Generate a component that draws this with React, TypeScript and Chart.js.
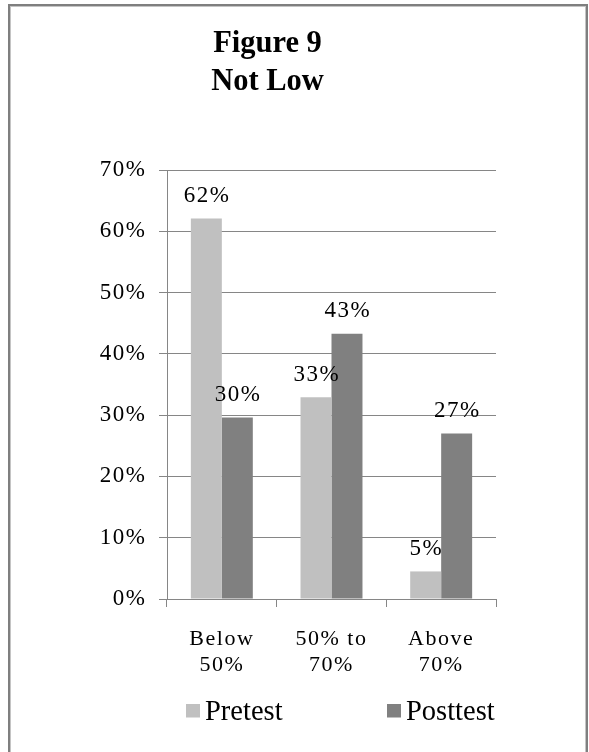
import React, { useEffect, useRef } from "react";
import { Chart, registerables } from "chart.js";

Chart.register(...registerables);

const titleLines = ["Figure 9", "Not Low"];
const categories = [["Below", "50%"], ["50% to", "70%"], ["Above", "70%"]];
const seriesNames = ["Pretest", "Posttest"];
const pretest = [62.1, 32.9, 4.5];
const posttest = [29.6, 43.3, 27.0];
const yTicks = [0, 10, 20, 30, 40, 50, 60, 70];

const SERIF = "'Liberation Serif', 'Times New Roman', serif";
const GRID = "#868686";
const LS = "1.5px";

const spacingPlugin = {
  id: "spacing",
  beforeDraw(chart: any) {
    chart.ctx.letterSpacing = LS;
  },
};

const dataLabelPlugin = {
  id: "dataLabels",
  afterDatasetsDraw(chart: any) {
    const ctx = chart.ctx;
    ctx.save();
    ctx.letterSpacing = LS;
    ctx.font = `23px ${SERIF}`;
    ctx.fillStyle = "#000";
    ctx.textAlign = "center";
    ctx.textBaseline = "alphabetic";
    chart.data.datasets.forEach((ds: any, i: number) => {
      const meta = chart.getDatasetMeta(i);
      meta.data.forEach((el: any, j: number) => {
        const v = ds.data[j];
        ctx.fillText(Math.round(v) + "%", el.x + 0.75, el.y - 16.5);
      });
    });
    ctx.restore();
  },
};

const titleLegendPlugin = {
  id: "titleLegend",
  afterDraw(chart: any) {
    const ctx = chart.ctx;
    const area = chart.chartArea;
    ctx.save();
    ctx.letterSpacing = "0px";
    // title
    ctx.font = `bold 30.5px ${SERIF}`;
    ctx.fillStyle = "#000";
    ctx.textAlign = "center";
    ctx.textBaseline = "alphabetic";
    const baselines = [51.7, 90];
    titleLines.forEach((t, i) => ctx.fillText(t, 267.5, baselines[i]));
    // legend
    const offsets = [19, 220];
    ctx.font = `28.5px ${SERIF}`;
    ctx.textAlign = "left";
    chart.data.datasets.forEach((ds: any, i: number) => {
      const bx = area.left + offsets[i];
      const by = area.bottom + 105;
      ctx.fillStyle = ds.backgroundColor;
      ctx.fillRect(bx, by, 14, 13.5);
      ctx.fillStyle = "#000";
      ctx.fillText(ds.label, bx + 19, area.bottom + 120.5);
    });
    ctx.restore();
  },
};

export default function App() {
  const ref = useRef<HTMLCanvasElement>(null);
  useEffect(() => {
    if (!ref.current) return;
    const chart = new Chart(ref.current, {
      type: "bar",
      data: {
        labels: categories as any,
        datasets: [
          {
            label: seriesNames[0],
            data: pretest,
            backgroundColor: "#C0C0C0",
            categoryPercentage: 0.565,
            barPercentage: 1.0,
          },
          {
            label: seriesNames[1],
            data: posttest,
            backgroundColor: "#808080",
            categoryPercentage: 0.565,
            barPercentage: 1.0,
          },
        ],
      },
      options: {
        responsive: false,
        animation: false,
        layout: { padding: { top: 170, left: 10, right: 93, bottom: 53 } },
        plugins: {
          legend: { display: false },
          title: { display: false },
          tooltip: { enabled: false },
        },
        scales: {
          x: {
            grid: {
              display: true,
              drawOnChartArea: false,
              drawTicks: true,
              tickLength: 8,
              color: GRID,
              offset: true,
            },
            border: { color: GRID, width: 1 },
            ticks: {
              color: "#000",
              font: { family: SERIF, size: 22, lineHeight: 1.2 },
              padding: 19,
              maxRotation: 0,
              autoSkip: false,
            },
            afterFit: (s: any) => {
              s.height = 100;
            },
          },
          y: {
            min: 0,
            max: 70,
            afterBuildTicks: (s: any) => {
              s.ticks = yTicks.map((v) => ({ value: v }));
            },
            grid: {
              color: GRID,
              tickLength: 8,
              drawTicks: true,
            },
            border: { color: GRID, width: 1 },
            ticks: {
              color: "#000",
              font: { family: SERIF, size: 23 },
              padding: 12.5,
              callback: (v: any) => v + "%",
            },
            afterFit: (s: any) => {
              s.width = 157;
            },
          },
        },
      },
      plugins: [spacingPlugin, dataLabelPlugin, titleLegendPlugin],
    });
    return () => chart.destroy();
  }, []);

  return (
    <>
      <canvas
        ref={ref}
        width={589}
        height={752}
        style={{ position: "absolute", left: 0, top: 0, width: 589, height: 752, display: "block" }}
      />
      <div
        style={{
          position: "absolute",
          left: 8,
          top: 4,
          width: 580,
          height: 760,
          border: "2px solid #7f7f7f",
          boxShadow: "inset 0 0 0 1px #c4c4c4",
          boxSizing: "border-box",
          pointerEvents: "none",
        }}
      />
    </>
  );
}
